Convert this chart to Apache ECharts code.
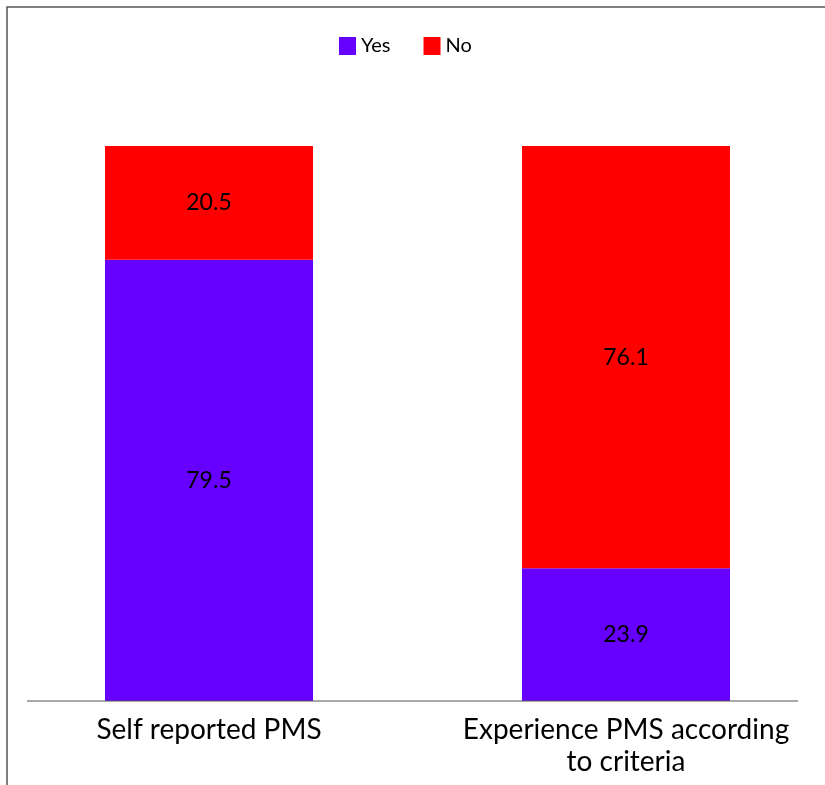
<!DOCTYPE html>
<html><head><meta charset="utf-8">
<script src="https://cdn.jsdelivr.net/npm/echarts@6/dist/echarts.min.js"></script>
<style>html,body{margin:0;padding:0;background:#fff}#c{width:825px;height:785px}</style>
</head><body><div id="c"></div>
<script>
const categories = ['Self reported PMS', 'Experience PMS according\nto criteria'];
const yesValues = [79.5, 23.9];
const noValues = [20.5, 76.1];
const seriesNames = ['Yes', 'No'];

const chart = echarts.init(document.getElementById('c'));
const FONT = 'Lato';
const labelCfg = {show: true, position: 'inside', color: '#000', fontSize: 23, fontFamily: FONT};
chart.setOption({
  animation: false,
  backgroundColor: '#fff',
  legend: {
    data: seriesNames, top: 31, left: 334, itemWidth: 17, itemHeight: 18, itemGap: 33,
    icon: 'rect', textStyle: {fontSize: 20, fontFamily: FONT, color: '#000'}
  },
  grid: {left: 0.5, right: -9.5, top: 146, bottom: 84, containLabel: false, outerBoundsMode: 'none'},
  xAxis: {
    type: 'category', data: categories,
    axisLine: {show: false}, axisTick: {show: false},
    axisLabel: {fontSize: 28, fontFamily: FONT, color: '#000', margin: 13, lineHeight: 32, interval: 0}
  },
  yAxis: {type: 'value', min: 0, max: 100, show: false, splitLine: {show: false}},
  series: [
    {name: 'Yes', type: 'bar', stack: 's', data: yesValues, barWidth: 208,
     itemStyle: {color: '#6600FF'}, label: labelCfg},
    {name: 'No', type: 'bar', stack: 's', data: noValues, barWidth: 208,
     itemStyle: {color: '#FF0000'}, label: labelCfg}
  ],
  graphic: [
    {type: 'line', shape: {x1: 27, y1: 701, x2: 798, y2: 701}, style: {stroke: '#555', lineWidth: 1.2}, z: 100},
    {type: 'rect', shape: {x: 7, y: 7, width: 900, height: 900}, style: {fill: 'none', stroke: '#555', lineWidth: 1.5}, z: 100}
  ]
});
</script></body></html>
